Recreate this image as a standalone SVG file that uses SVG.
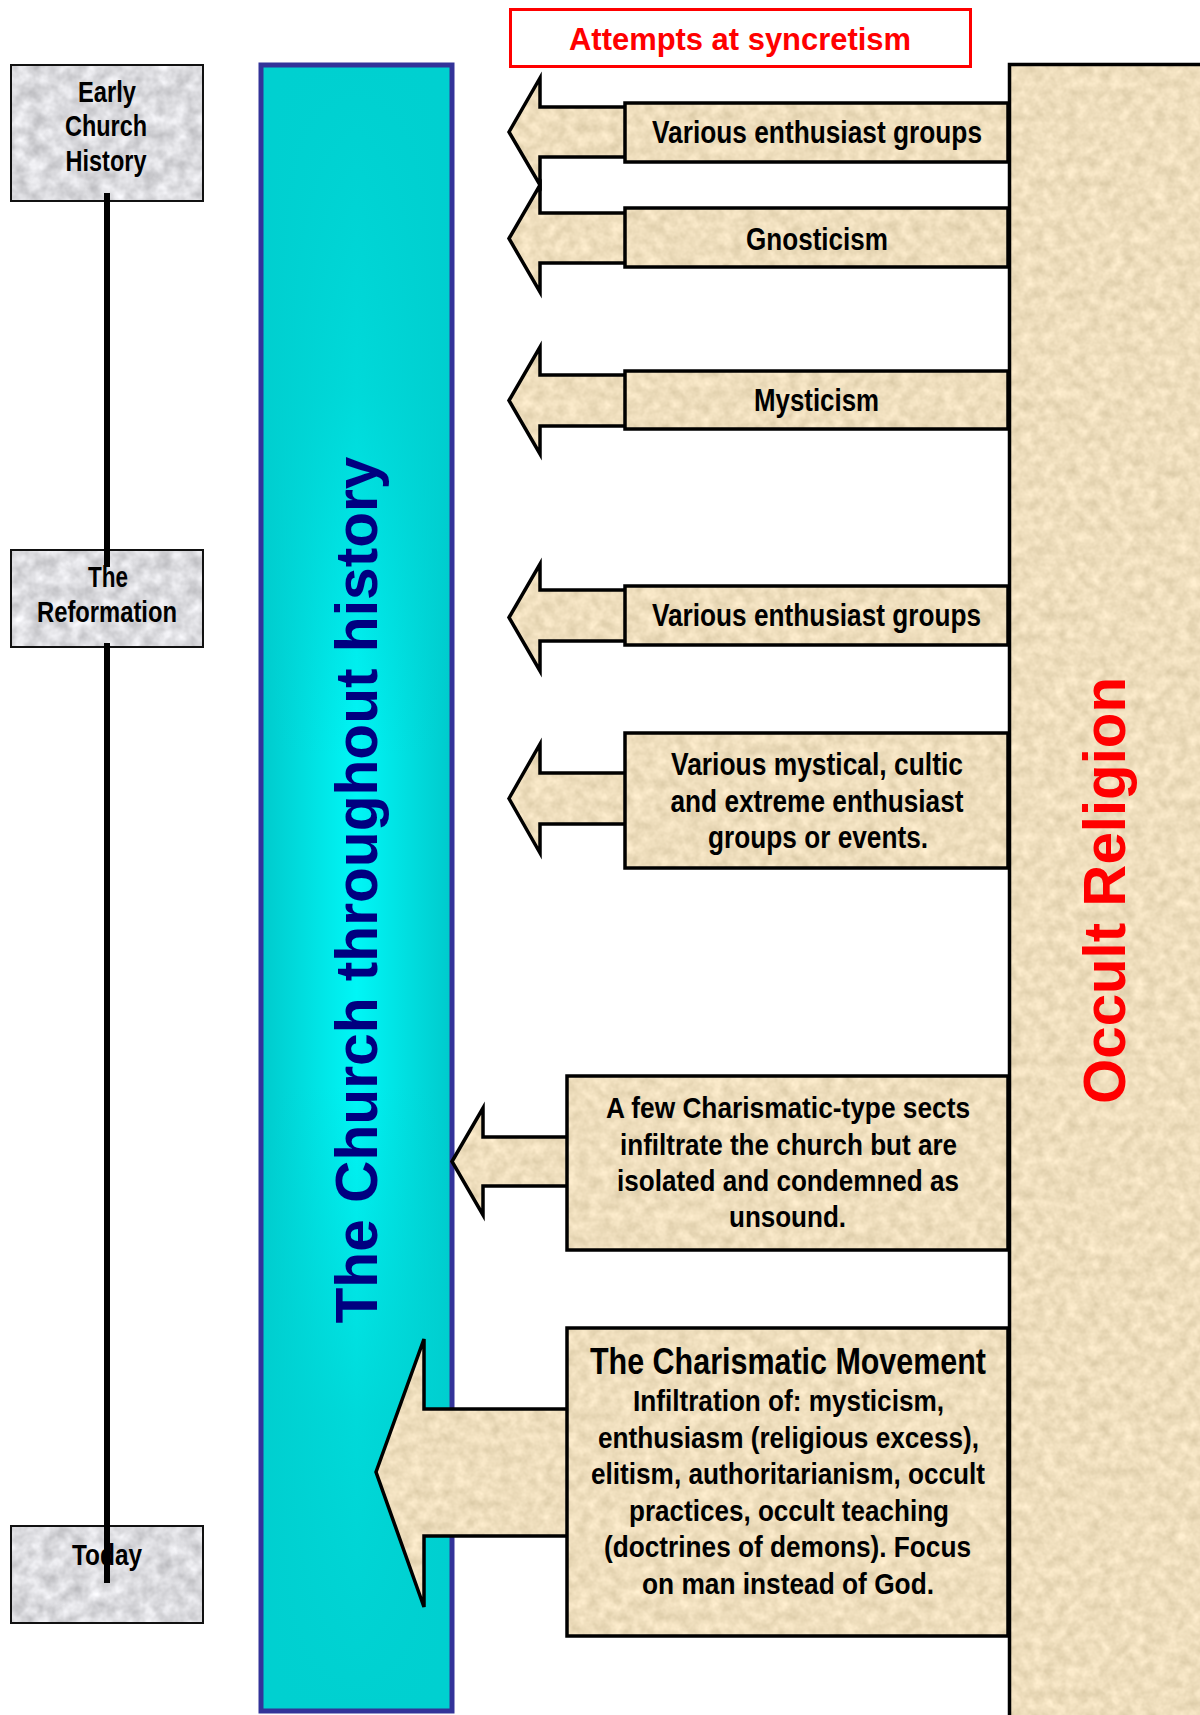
<svg xmlns="http://www.w3.org/2000/svg" width="1200" height="1715" viewBox="0 0 1200 1715">
<defs>
<filter id="fParch" color-interpolation-filters="sRGB">
<feTurbulence type="fractalNoise" baseFrequency="0.09" numOctaves="3" seed="7"/>
<feColorMatrix type="matrix" values="0.18 0 0 0 0.845  0.18 0 0 0 0.78  0.2 0 0 0 0.64  0 0 0 0 1"/>
</filter>
<filter id="fGray" color-interpolation-filters="sRGB">
<feTurbulence type="fractalNoise" baseFrequency="0.07" numOctaves="3" seed="11"/>
<feColorMatrix type="matrix" values="0.32 0 0 0 0.7  0.32 0 0 0 0.7  0.32 0 0 0 0.715  0 0 0 0 1"/>
</filter>
<pattern id="pParch" patternUnits="userSpaceOnUse" width="1200" height="1715"><rect width="1200" height="1715" filter="url(#fParch)"/></pattern>
<pattern id="pGray" patternUnits="userSpaceOnUse" width="1200" height="1715"><rect width="1200" height="1715" filter="url(#fGray)"/></pattern>
<linearGradient id="gCyanH" x1="0" y1="0" x2="1" y2="0">
<stop offset="0" stop-color="#00CACC"/>
<stop offset="0.5" stop-color="#00F6F6"/>
<stop offset="1" stop-color="#00CACC"/>
</linearGradient>
<linearGradient id="gCyanV" x1="0" y1="0" x2="0" y2="1">
<stop offset="0" stop-color="#00D0D0" stop-opacity="1"/>
<stop offset="0.2" stop-color="#00D0D0" stop-opacity="0.75"/>
<stop offset="0.42" stop-color="#00D0D0" stop-opacity="0"/>
<stop offset="0.62" stop-color="#00D0D0" stop-opacity="0"/>
<stop offset="0.82" stop-color="#00D0D0" stop-opacity="0.75"/>
<stop offset="1" stop-color="#00D0D0" stop-opacity="1"/>
</linearGradient>
</defs>
<style>
.tan{fill:url(#pParch);stroke:#000;stroke-width:3.5;stroke-linejoin:miter}
.gray{fill:url(#pGray);stroke:#111;stroke-width:2}
.t{font-family:"Liberation Sans Narrow","Liberation Sans",Arial,sans-serif;font-weight:bold;fill:#000;text-anchor:middle}
.big{font-family:"Liberation Sans",Arial,sans-serif;font-weight:bold;text-anchor:middle}
.tl{stroke:#000;stroke-width:6;fill:none}
</style>
<rect width="1200" height="1715" fill="#fff"/>

<g id="church-column">
<rect x="261" y="65" width="191" height="1646" fill="url(#gCyanH)"/>
<rect x="261" y="65" width="191" height="1646" fill="url(#gCyanV)" stroke="#333399" stroke-width="5"/>
<text class="big" transform="translate(377,890) rotate(-90)" font-size="59" fill="#000080" textLength="867" lengthAdjust="spacingAndGlyphs">The Church throughout history</text>
</g>

<g id="occult-religion">
<rect x="1009.5" y="64.5" width="200" height="1670" class="tan"/>
<text class="big" transform="translate(1125,890.5) rotate(-90)" font-size="59" fill="#FF0000" textLength="427" lengthAdjust="spacingAndGlyphs">Occult Religion</text>
</g>

<g id="syncretism-title">
<rect x="510.5" y="9.5" width="460" height="57" fill="#fff" stroke="#FF0000" stroke-width="3"/>
<text class="t" x="740" y="50" font-size="32" style="fill:#FF0000" textLength="342" lengthAdjust="spacingAndGlyphs">Attempts at syncretism</text>
</g>

<g id="timeline-early">
<rect x="11" y="65" width="192" height="136" class="gray"/>
<text class="t" x="107" y="102" font-size="29" textLength="58" lengthAdjust="spacingAndGlyphs">Early</text>
<text class="t" x="106" y="136" font-size="29" textLength="82" lengthAdjust="spacingAndGlyphs">Church</text>
<text class="t" x="106" y="171" font-size="29" textLength="81" lengthAdjust="spacingAndGlyphs">History</text>
</g>
<g id="timeline-reformation">
<rect x="11" y="550" width="192" height="97" class="gray"/>
<text class="t" x="108" y="587" font-size="29" textLength="40" lengthAdjust="spacingAndGlyphs">The</text>
<text class="t" x="107" y="622" font-size="29" textLength="140" lengthAdjust="spacingAndGlyphs">Reformation</text>
</g>
<g id="timeline-today">
<rect x="11" y="1526" width="192" height="97" class="gray"/>
<text class="t" x="107" y="1565" font-size="29" textLength="70" lengthAdjust="spacingAndGlyphs">Today</text>
</g>

<g id="enthusiast-1">
<polygon class="tan" points="509,132 540,78 540,107 630,107 630,157 540,157 540,185"/>
<rect class="tan" x="625" y="103" width="383" height="59"/>
<text class="t" x="817" y="143" font-size="31" textLength="330" lengthAdjust="spacingAndGlyphs">Various enthusiast groups</text>
</g>
<g id="gnosticism">
<polygon class="tan" points="509,238.5 540,185 540,213 630,213 630,263 540,263 540,292"/>
<rect class="tan" x="625" y="208" width="383" height="59"/>
<text class="t" x="817" y="250" font-size="31" textLength="142" lengthAdjust="spacingAndGlyphs">Gnosticism</text>
</g>
<g id="mysticism">
<polygon class="tan" points="509,400.5 540,347 540,375 630,375 630,426 540,426 540,454"/>
<rect class="tan" x="625" y="371" width="383" height="58"/>
<text class="t" x="816.5" y="411" font-size="31" textLength="125" lengthAdjust="spacingAndGlyphs">Mysticism</text>
</g>
<g id="enthusiast-2">
<polygon class="tan" points="509,617.5 540,564 540,590 630,590 630,641 540,641 540,671"/>
<rect class="tan" x="625" y="586" width="383" height="59"/>
<text class="t" x="816.5" y="626" font-size="31" textLength="329" lengthAdjust="spacingAndGlyphs">Various enthusiast groups</text>
</g>
<g id="mystical-cultic">
<polygon class="tan" points="509,798.5 540,744 540,773 630,773 630,824 540,824 540,853"/>
<rect class="tan" x="625" y="733" width="383" height="135"/>
<text class="t" x="817" y="775" font-size="31" textLength="292" lengthAdjust="spacingAndGlyphs">Various mystical, cultic</text>
<text class="t" x="817" y="811.5" font-size="31" textLength="293" lengthAdjust="spacingAndGlyphs">and extreme enthusiast</text>
<text class="t" x="818" y="848" font-size="31" textLength="220" lengthAdjust="spacingAndGlyphs">groups or events.</text>
</g>
<g id="charismatic-sects">
<polygon class="tan" points="452,1161.5 483,1108 483,1137 572,1137 572,1186 483,1186 483,1215"/>
<rect class="tan" x="567" y="1076" width="441" height="174"/>
<text class="t" x="788" y="1118" font-size="30" textLength="364" lengthAdjust="spacingAndGlyphs">A few Charismatic-type sects</text>
<text class="t" x="788.5" y="1155" font-size="30" textLength="337" lengthAdjust="spacingAndGlyphs">infiltrate the church but are</text>
<text class="t" x="788" y="1191" font-size="30" textLength="342" lengthAdjust="spacingAndGlyphs">isolated and condemned as</text>
<text class="t" x="787.5" y="1227" font-size="30" textLength="117" lengthAdjust="spacingAndGlyphs">unsound.</text>
</g>
<g id="charismatic-movement">
<polygon class="tan" points="376,1472 424,1339 424,1409 572,1409 572,1536 424,1536 424,1607"/>
<rect class="tan" x="567" y="1328" width="441" height="308"/>
<text class="t" x="788" y="1374" font-size="37" textLength="396" lengthAdjust="spacingAndGlyphs">The Charismatic Movement</text>
<text class="t" x="788.5" y="1411" font-size="30" textLength="311" lengthAdjust="spacingAndGlyphs">Infiltration of: mysticism,</text>
<text class="t" x="788.5" y="1447.5" font-size="30" textLength="381" lengthAdjust="spacingAndGlyphs">enthusiasm (religious excess),</text>
<text class="t" x="788" y="1484" font-size="30" textLength="394" lengthAdjust="spacingAndGlyphs">elitism, authoritarianism, occult</text>
<text class="t" x="789" y="1520.5" font-size="30" textLength="320" lengthAdjust="spacingAndGlyphs">practices, occult teaching</text>
<text class="t" x="787.5" y="1557" font-size="30" textLength="367" lengthAdjust="spacingAndGlyphs">(doctrines of demons). Focus</text>
<text class="t" x="788" y="1593.5" font-size="30" textLength="292" lengthAdjust="spacingAndGlyphs">on man instead of God.</text>
</g>

<g id="connectors">
<line class="tl" x1="107" y1="193" x2="107" y2="567"/>
<line class="tl" x1="107" y1="643" x2="107" y2="1583"/>
</g>
</svg>
